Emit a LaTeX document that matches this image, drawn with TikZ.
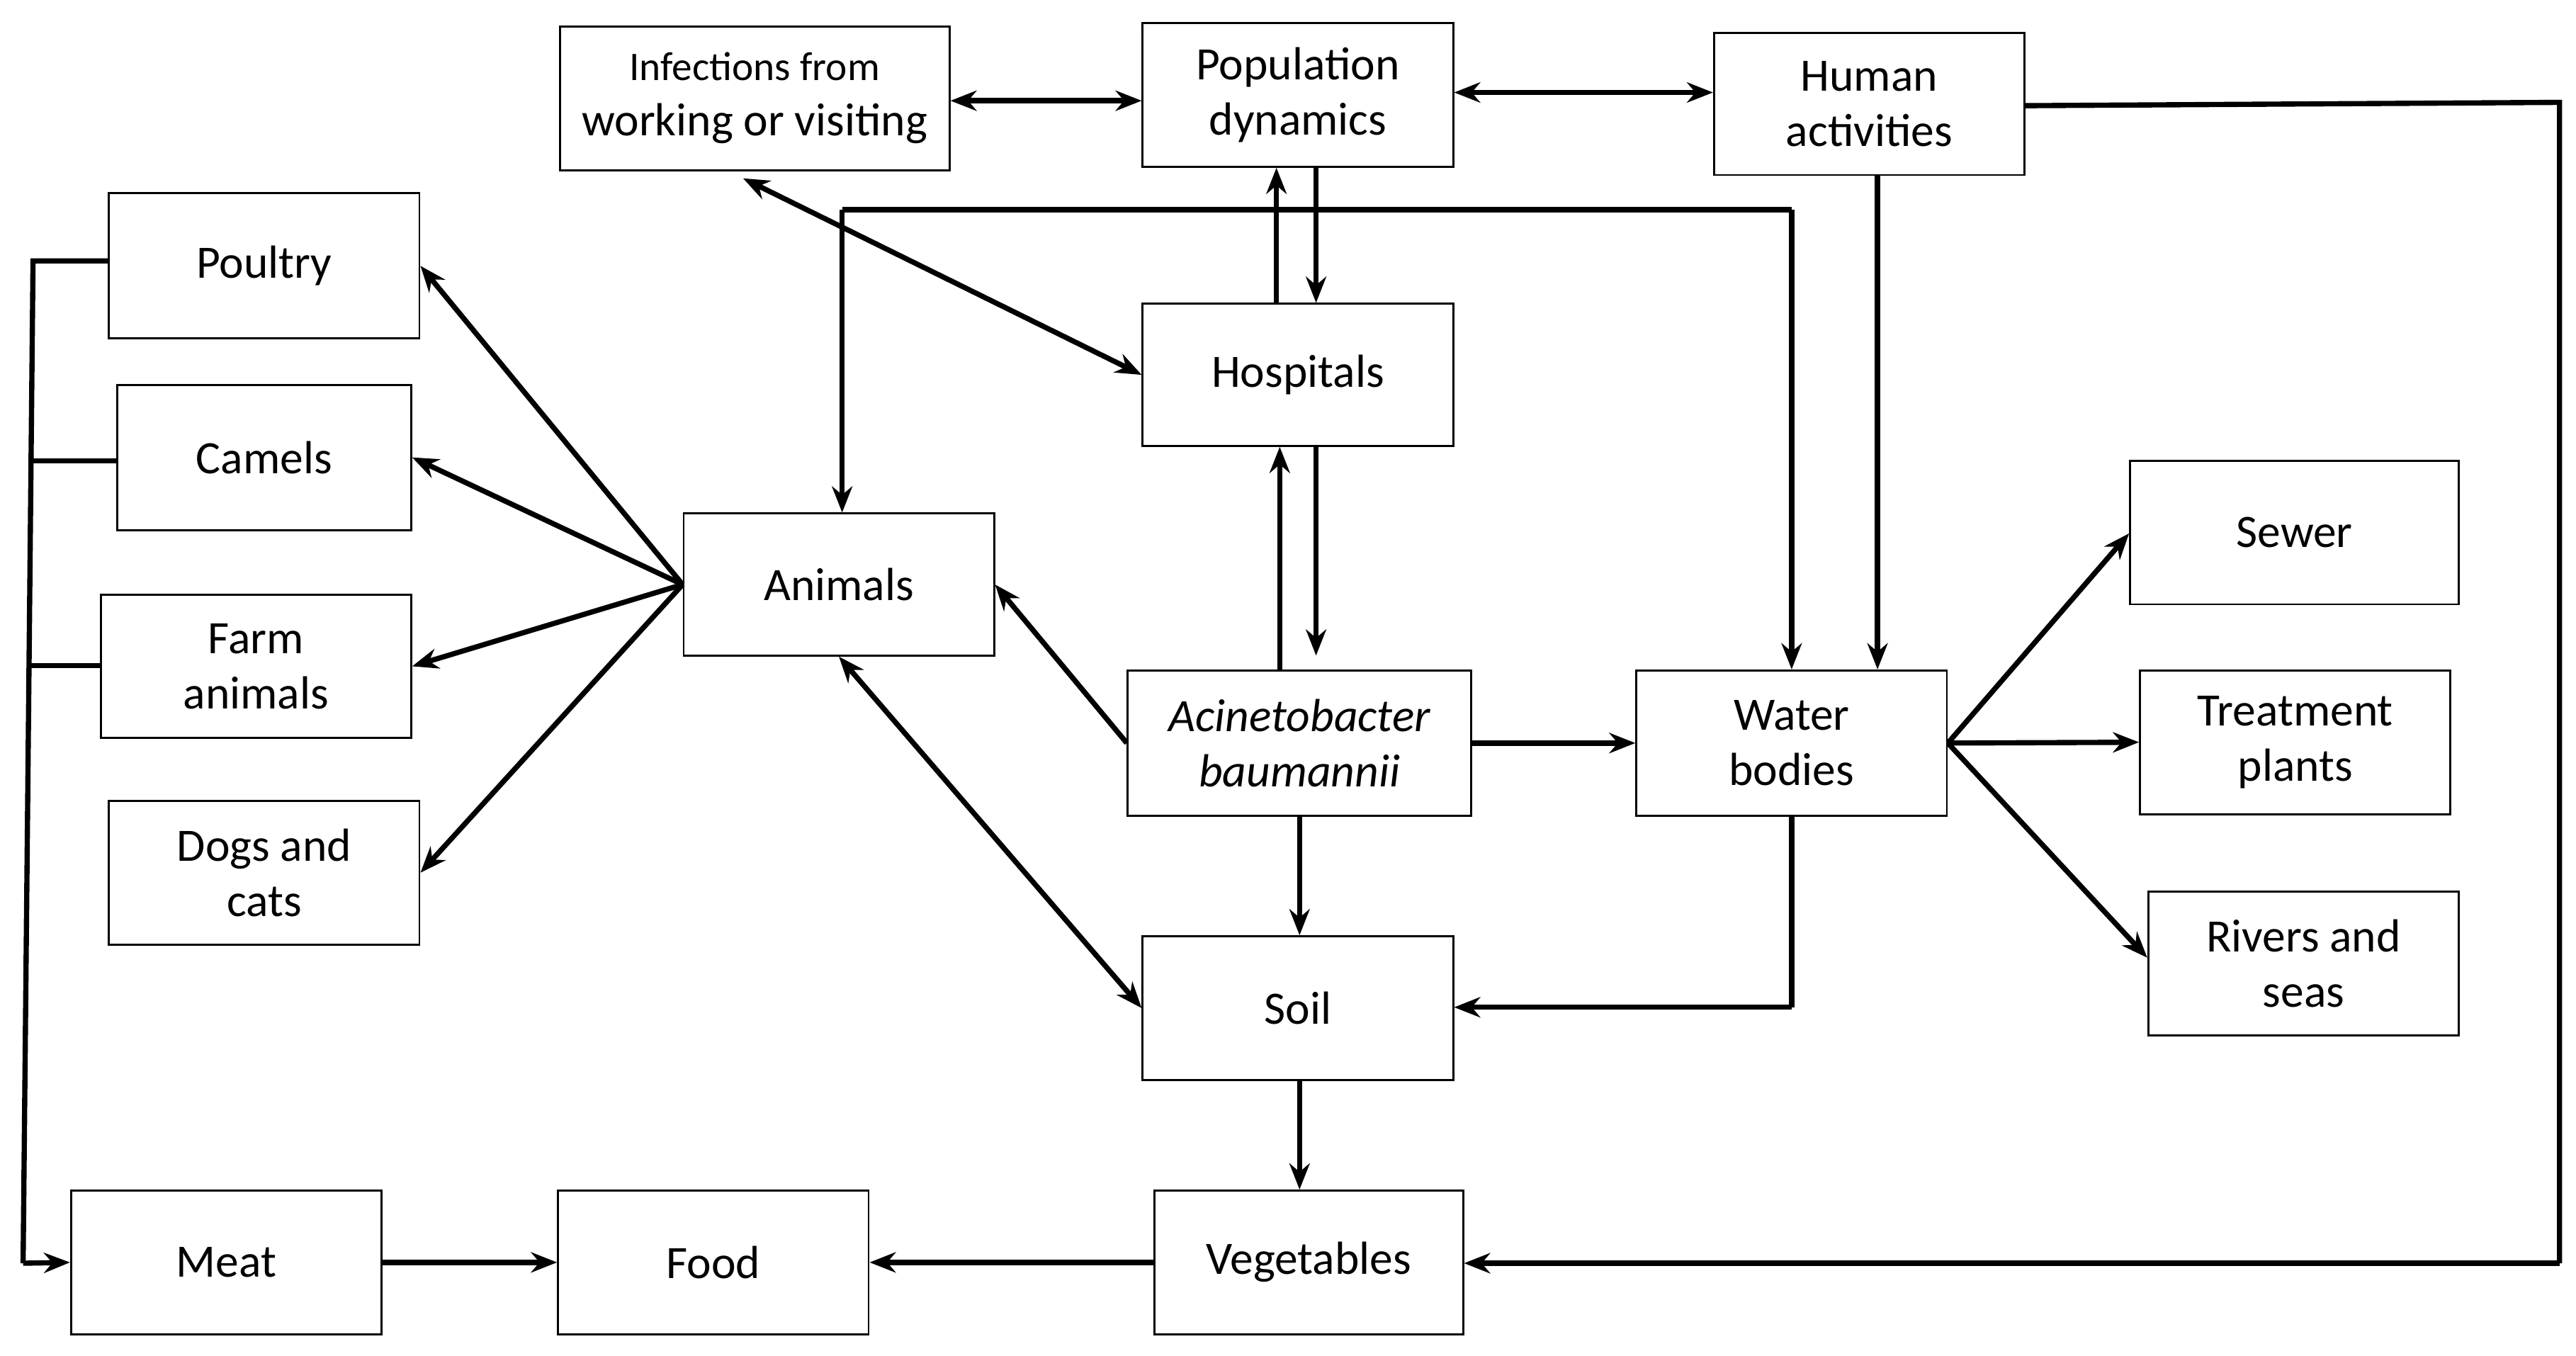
\documentclass[tikz,border=0pt]{standalone}
\usepackage{fontspec}
\setmainfont{Carlito}
\usetikzlibrary{arrows.meta,calc}
\newcommand{\bx}[6]{%
  \pgfmathsetmacro{\cxx}{(#2+#4)/2}\pgfmathsetmacro{\cyy}{(#3+#5)/2}%
  \pgfmathsetmacro{\ww}{(#4-#2)*0.02}\pgfmathsetmacro{\hh}{(#5-#3)*0.02}%
  \node[box,minimum width=\ww cm,minimum height=\hh cm] (#1) at (\cxx,\cyy) {#6};}
\begin{document}
\begin{tikzpicture}[x=0.02cm,y=-0.02cm,
  box/.style={draw,line width=0.7pt,align=center,inner sep=0pt,font=\fontsize{16}{19}\selectfont},
  ar/.style={line width=1.8pt,-{Stealth[length=9pt,width=7pt]}},
  dar/.style={line width=1.8pt,{Stealth[length=9pt,width=7pt]}-{Stealth[length=9pt,width=7pt]}},
  ln/.style={line width=1.8pt}]
\useasboundingbox (0,0) rectangle (1560,821);
\bx{inf}{339}{16}{575}{103}{\fontsize{14}{18}\selectfont Infections from\\working or visiting}
\bx{pop}{692}{14}{880}{101}{Population\\dynamics}
\bx{hum}{1038}{20}{1226}{106}{Human\\activities}
\bx{pou}{66}{117}{254}{205}{Poultry}
\bx{cam}{71}{233}{249}{321}{Camels}
\bx{farm}{61}{360}{249}{447}{Farm\\animals}
\bx{dog}{66}{485}{254}{572}{Dogs and\\cats}
\bx{ani}{414}{311}{602}{397}{Animals}
\bx{hos}{692}{184}{880}{270}{Hospitals}
\bx{aci}{683}{406}{891}{494}{\itshape Acinetobacter\\\itshape baumannii}
\bx{wat}{991}{406}{1179}{494}{Water\\bodies}
\bx{sew}{1290}{279}{1489}{366}{Sewer}
\bx{tre}{1296}{406}{1484}{493}{Treatment\\plants}
\bx{riv}{1301}{540}{1489}{627}{Rivers and\\seas}
\bx{soil}{692}{567}{880}{654}{Soil}
\bx{meat}{43}{721}{231}{808}{Meat}
\bx{food}{338}{721}{526}{808}{Food}
\bx{veg}{699}{721}{886}{808}{Vegetables}
% top row
\draw[dar] (inf.east |- 0,61) -- (pop.west |- 0,61);
\draw[dar] (pop.east |- 0,56) -- (hum.west |- 0,56);
\coordinate (hr) at (1550,62);
\coordinate (hb) at (1550,765);
\draw[ln] (hum.east |- 0,64) -- (hr) -- (hb);
\draw[ar] (hb) -- (veg.east |- hb);
\draw[ar] (hum.south -| 1137,0) -- (wat.north -| 1137,0);
% top bus
\coordinate (b1) at (510,127);
\coordinate (b2) at (1085,127);
\draw[ln] (b1) -- (b2);
\draw[ar] (b1) -- (ani.north -| b1);
\draw[ar] (b2) -- (wat.north -| b2);
\draw[dar] (450,108) -- (hos.west);
% hospitals
\draw[ar] (hos.north -| 773,0) -- (pop.south -| 773,0);
\draw[ar] (pop.south -| 797,0) -- (hos.north -| 797,0);
\draw[ar] (aci.north -| 775,0) -- (hos.south -| 775,0);
\draw[ar] (hos.south -| 797,0) -- (797,397);
% animals
\draw[ar] (aci.west) -- (ani.east);
\coordinate (af) at (ani.west);
\draw[ar] (af) -- (pou.east);
\draw[ar] (af) -- (cam.east);
\draw[ar] (af) -- (farm.east);
\draw[ar] (af) -- (dog.east);
\draw[dar] (ani.south) -- (soil.west);
% acinetobacter
\draw[ar] (aci.east) -- (wat.west);
\draw[ar] (aci.south -| 787,0) -- (soil.north -| 787,0);
\coordinate (wc) at (1085,610);
\draw[ln] (wat.south -| wc) -- (wc);
\draw[ar] (wc) -- (soil.east |- wc);
\coordinate (wf) at (wat.east);
\draw[ar] (wf) -- (sew.west |- 0,323);
\draw[ar] (wf) -- (tre.west);
\draw[ar] (wf) -- (riv.west |- 0,580);
\draw[ar] (soil.south -| 787,0) -- (veg.north -| 787,0);
\draw[ar] (veg.west) -- (food.east);
\draw[ar] (meat.east) -- (food.west);
% left bus
\coordinate (l1) at (20,158);
\coordinate (l2) at (14,765);
\draw[ln] (pou.west |- l1) -- (l1) -- (l2);
\draw[ln] (cam.west |- 0,279) -- (19,279);
\draw[ln] (farm.west |- 0,403) -- (17,403);
\draw[ar] (l2) -- (meat.west);
\end{tikzpicture}
\end{document}
